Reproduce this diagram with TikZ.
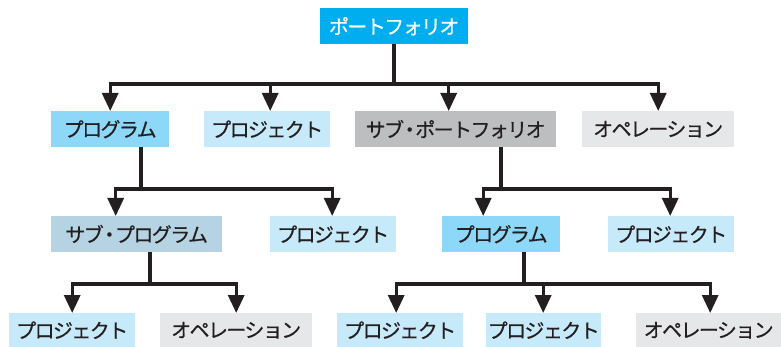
\documentclass[tikz,border=0pt]{standalone}
\usepackage{fontspec}
\newfontfamily\jp[LetterSpace=-8,FakeBold=0.5]{Noto Sans CJK JP}
\usetikzlibrary{arrows.meta}
\definecolor{cTop}{HTML}{00AEEF}
\definecolor{cProg}{HTML}{8DD8F8}
\definecolor{cProj}{HTML}{C7EAFB}
\definecolor{cSubPf}{HTML}{BCBEC0}
\definecolor{cOp}{HTML}{E6E7E8}
\definecolor{cSubPg}{HTML}{B5D3E3}
\definecolor{ink}{HTML}{231F20}
\newcommand{\mdot}{\kern-0.22em・\kern-0.22em}
\tikzset{
  box/.style={anchor=north west, inner sep=0pt, minimum height=36pt, text=ink, font=\jp\fontsize{20}{22}\selectfont},
  link/.style={draw=ink, line width=3.2pt},
  arr/.style={draw=ink, line width=3.2pt, -{Triangle[width=16pt,length=18pt]}},
}
\begin{document}
\begin{tikzpicture}[x=1pt,y=-1pt]
\useasboundingbox (0,0) rectangle (781,347);
% top
\node[box, fill=cTop, text=white, minimum width=148pt] (pf) at (320,8) {ポートフォリオ};
% level 1
\node[box, fill=cProg, minimum width=118pt] (pg1) at (51,111) {プログラム};
\node[box, fill=cProj, minimum width=126pt] (pj1) at (204,111) {プロジェクト};
\node[box, fill=cSubPf, minimum width=201pt] (spf) at (355,111) {サブ\mdot ポートフォリオ};
\node[box, fill=cOp, minimum width=152pt] (op1) at (582,111) {オペレーション};
% level 2
\node[box, fill=cSubPg, minimum width=171pt] (spg) at (51,216) {サブ\mdot プログラム};
\node[box, fill=cProj, minimum width=126pt] (pj2) at (270,216) {プロジェクト};
\node[box, fill=cProg, minimum width=118pt] (pg2) at (442,216) {プログラム};
\node[box, fill=cProj, minimum width=126pt] (pj3) at (608,216) {プロジェクト};
% level 3
\node[box, fill=cProj, minimum width=126pt, minimum height=34pt] (pj4) at (9,313) {プロジェクト};
\node[box, fill=cOp, minimum width=152pt, minimum height=34pt] (op2) at (160,313) {オペレーション};
\node[box, fill=cProj, minimum width=126pt, minimum height=34pt] (pj5) at (337,313) {プロジェクト};
\node[box, fill=cProj, minimum width=115pt, minimum height=34pt] (pj6) at (486,313) {プロジェクト};
\node[box, fill=cOp, minimum width=145pt, minimum height=34pt] (op3) at (636,313) {オペレーション};
% junctions
\coordinate (j0) at (394,84);
\coordinate (j1) at (141,189);
\coordinate (j2) at (501,189);
\coordinate (j3) at (150,284);
\coordinate (j4) at (524,284);
% connectors level 0 -> 1
\draw[link] (pf.south -| j0) -- (j0);
\draw[arr] (j0) -| (pg1.north);
\draw[arr] (j0) -| ([xshift=3pt]pj1.north);
\draw[arr] (j0) -| ([xshift=-7pt]spf.north);
\draw[arr] (j0) -| (op1.north);
% level 1 -> 2
\draw[link] (pg1.south -| j1) -- (j1);
\draw[arr] (j1) -| ([xshift=-21pt]spg.north);
\draw[arr] (j1) -| ([xshift=-1pt]pj2.north);
\draw[link] (spf.south -| j2) -- (j2);
\draw[arr] (j2) -| ([xshift=-18pt]pg2.north);
\draw[arr] (j2) -| ([xshift=-1pt]pj3.north);
% level 2 -> 3
\draw[link] (spg.south -| j3) -- (j3);
\draw[arr] (j3) -| (pj4.north);
\draw[arr] (j3) -| (op2.north);
\draw[link] (pg2.south -| j4) -- (j4);
\draw[arr] (j4) -| ([xshift=-4pt]pj5.north);
\draw[arr] (j4) -| ([xshift=-0.5pt]pj6.north);
\draw[arr] (j4) -| ([xshift=1.5pt]op3.north);
\end{tikzpicture}
\end{document}
